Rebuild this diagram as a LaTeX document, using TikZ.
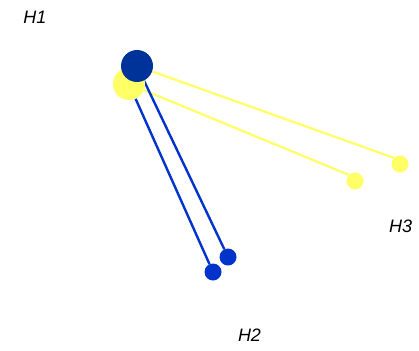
\documentclass[tikz,border=0pt]{standalone}
\usepackage{fontspec}
\setmainfont{Liberation Sans}
\usepackage{tikz}
\usetikzlibrary{backgrounds}
\definecolor{hubblue}{RGB}{0,51,153}
\definecolor{leafblue}{RGB}{0,51,204}
\definecolor{leafyellow}{RGB}{255,255,102}

\begin{document}
\begin{tikzpicture}[
    x=1pt,y=-1pt,
    hub/.style={circle,inner sep=0pt,minimum size=32pt,fill=#1},
    leaf/.style={circle,inner sep=0pt,minimum size=17pt,fill=#1},
    link/.style={line width=#1},
    tag/.style={font=\itshape\fontsize{18}{20}\selectfont,inner sep=0pt}
]
\useasboundingbox (0,0) rectangle (419,350);

\node[hub=leafyellow] (h1y) at (129,84) {};
\node[hub=hubblue] (h1b) at (137,66) {};
\node[leaf=leafblue] (h2a) at (213,272) {};
\node[leaf=leafblue] (h2b) at (228,257) {};
\node[leaf=leafyellow] (h3a) at (400,164) {};
\node[leaf=leafyellow] (h3b) at (355,181) {};

\node[tag] (t1) at (35,17.5) {H1};
\node[tag] (t2) at (249.5,335.5) {H2};
\node[tag] (t3) at (400.5,226.5) {H3};

\begin{pgfonlayer}{background}
\draw[link=2.2pt,leafyellow] (h1b) -- (h3a.north west);
\draw[link=2.2pt,leafyellow] (h1y) -- (h3b.north west);
\draw[link=2.4pt,leafblue] (h1y) -- (h2a);
\draw[link=2.4pt,leafblue] (h1b) -- (h2b);
\end{pgfonlayer}

\end{tikzpicture}
\end{document}
